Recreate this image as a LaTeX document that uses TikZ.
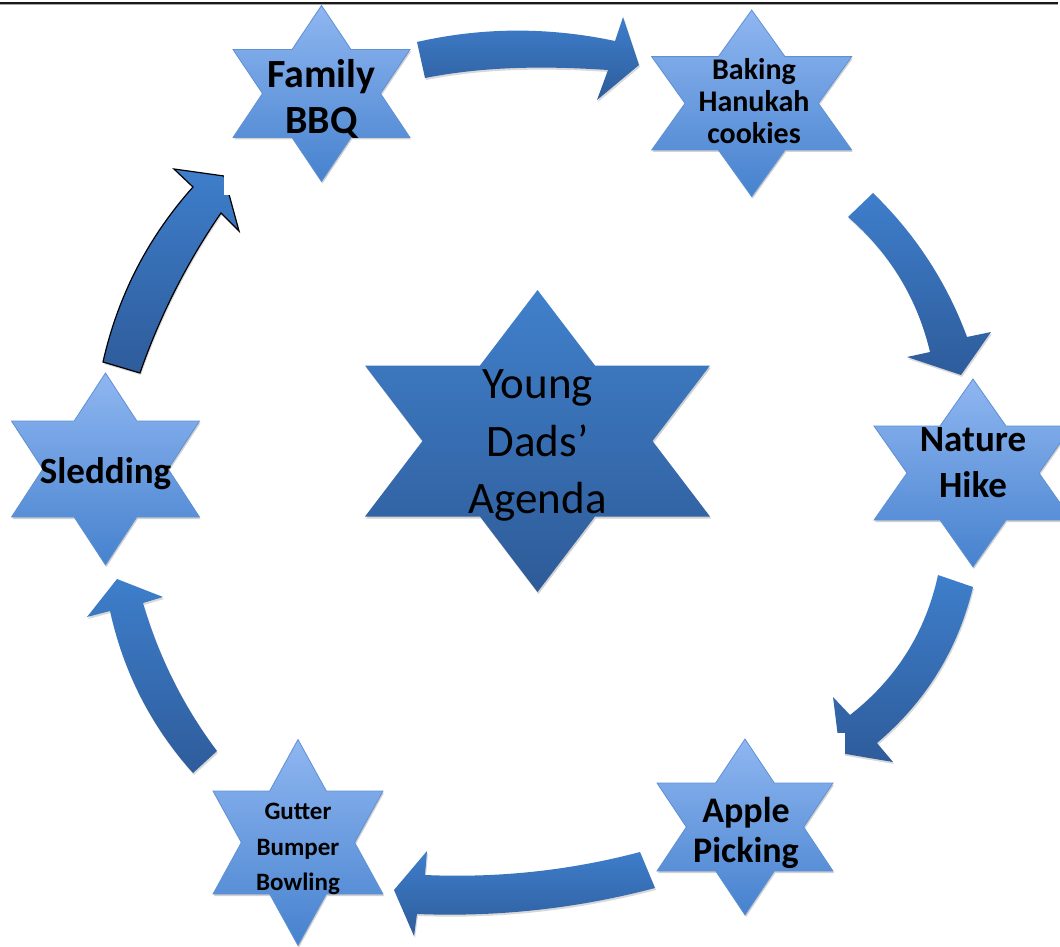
\documentclass[tikz,border=0pt]{standalone}
\usepackage{fontspec}
\setmainfont{Carlito}
\usetikzlibrary{shadows}
\definecolor{sTop}{RGB}{143,182,241}
\definecolor{sBot}{RGB}{70,130,206}
\definecolor{sEdge}{RGB}{95,145,212}
\definecolor{cTop}{RGB}{64,128,203}
\definecolor{cBot}{RGB}{46,91,152}
\definecolor{aTop}{RGB}{62,126,203}
\definecolor{aBot}{RGB}{46,92,155}
\newcommand\sixstar[5]{%
 \path[#5] (#1,{#2-#4}) -- ({#1+#3/3},{#2-#4/2}) -- ({#1+#3},{#2-#4/2}) -- ({#1+2*#3/3},#2)
  -- ({#1+#3},{#2+#4/2}) -- ({#1+#3/3},{#2+#4/2}) -- (#1,{#2+#4}) -- ({#1-#3/3},{#2+#4/2})
  -- ({#1-#3},{#2+#4/2}) -- ({#1-2*#3/3},#2) -- ({#1-#3},{#2-#4/2}) -- ({#1-#3/3},{#2-#4/2}) -- cycle;}
\tikzset{
  smallstar/.style={top color=sTop, bottom color=sBot, draw=sEdge, line width=0.8pt,
    drop shadow={shadow xshift=1pt, shadow yshift=-2pt, opacity=0.18, fill=black}},
  bigstar/.style={top color=cTop, bottom color=cBot, draw=none,
    drop shadow={shadow xshift=1pt, shadow yshift=-2pt, opacity=0.18, fill=black}},
  arrowfill/.style={top color=aTop, bottom color=aBot, draw=none,
    drop shadow={shadow xshift=1pt, shadow yshift=-2pt, opacity=0.15, fill=black}},
  lbl/.style={align=center, inner sep=0pt, text=black, font=\bfseries},
}
\begin{document}
\begin{tikzpicture}[x=1pt, y=-1pt]
\useasboundingbox (0,0) rectangle (1060,947);
\fill[white] (0,0) rectangle (1060,947);
% top rule
\draw[line width=1.7pt, black!90] (0,3) -- (1058,3);
\draw[line width=0.8pt, black!35] (0,4.6) -- (1058,4.6);

% stars
\sixstar{537.5}{441}{172.5}{151}{bigstar}
\sixstar{321.5}{93.5}{88.5}{88}{smallstar}
\sixstar{751.7}{103.3}{100}{93.3}{smallstar}
\sixstar{973}{473}{99}{94}{smallstar}
\sixstar{745}{827}{88}{88}{smallstar}
\sixstar{298}{842.5}{85}{103}{smallstar}
\sixstar{105.5}{469}{94}{96}{smallstar}

% labels
\node[lbl, font=\fontsize{45}{57.5}\selectfont\mdseries] (center) at (537.5,445.5) {Young\\Dads’\\Agenda};
\node[lbl, font=\fontsize{40}{46}\selectfont\bfseries] (bbq) at (321.5,98.5) {Family\\BBQ};
\node[lbl, font=\fontsize{30}{32}\selectfont\bfseries] (baking) at (754,100.7) {Baking\\Hanukah\\cookies};
\node[lbl, font=\fontsize{37}{46}\selectfont\bfseries] (hike) at (973,463) {Nature\\Hike};
\node[lbl, font=\fontsize{36}{40}\selectfont\bfseries] (apple) at (746,833) {Apple\\Picking};
\node[lbl, font=\fontsize{25}{35.5}\selectfont\bfseries] (gutter) at (298,849) {Gutter\\Bumper\\Bowling};
\node[lbl, font=\fontsize{37}{44}\selectfont\bfseries, anchor=base] (sled) at (105.5,483) {Sledding};

% arrows
% BBQ -> Baking
\path[arrowfill] (417,42) .. controls (483,27) and (549,27) .. (615,41)
  -- (623,17) -- (639,65) -- (597,100) -- (608,70)
  .. controls (547,66) and (486,66) .. (425,78) -- cycle;
% Baking -> Nature
\path[arrowfill] (848,217) .. controls (889.8,253.2) and (917.2,298.2) .. (930,352)
  -- (907,357) -- (961,375) -- (991,332) -- (967,337)
  .. controls (946.6,281.9) and (915.2,233.9) .. (873,193) -- cycle;
% Nature -> Apple
\path[arrowfill] (938,575) .. controls (925.6,632.3) and (896.2,678.9) .. (850,715)
  -- (833,697) -- (840,753) -- (893,762) -- (877,743)
  .. controls (926,701.5) and (958,649.5) .. (973,587) -- cycle;
\fill[white] (832,733) rectangle (844.5,757);
% Apple -> Gutter
\path[arrowfill] (640,852) .. controls (569.5,870.6) and (497.9,878.2) .. (425,875)
  -- (427,851) -- (394,890) -- (414,936) -- (417,914)
  .. controls (497.6,917.2) and (577,908.6) .. (655,888) -- cycle;
% Gutter -> Sledding
\path[arrowfill] (217,751) .. controls (183.4,706.2) and (158.8,656.8) .. (143,603)
  -- (163,597) -- (117,579) -- (87,617) -- (110,611)
  .. controls (123.5,672.3) and (151.1,726.3) .. (193,773) -- cycle;
% Sledding -> BBQ
\path[arrowfill, draw=black, line width=1.2pt] (103,362) .. controls (117.9,295.9) and (147.9,237.5) .. (193,187)
  -- (174,169) -- (224,176) -- (239,231) -- (221,213)
  .. controls (186.8,262.7) and (159.8,316.1) .. (140,373) -- cycle;
\fill[white] (224,158) rectangle (247,195);
\end{tikzpicture}
\end{document}
